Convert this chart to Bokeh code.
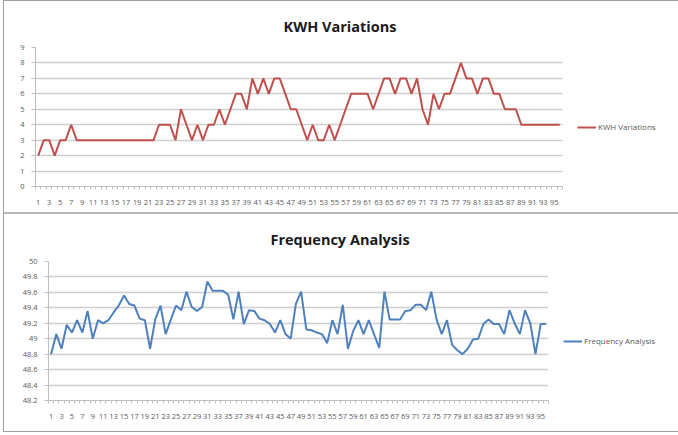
from bokeh.plotting import figure
from bokeh.models import Range1d, FixedTicker, Legend, LegendItem, NumeralTickFormatter
from bokeh.embed import file_html
from bokeh.resources import INLINE

# ---- data ----
categories = list(range(1, 97))
x_tick_labels = list(range(1, 96, 2))

kwh_values = [2, 3, 3, 2, 3, 3, 4, 3,
              3, 3, 3, 3, 3, 3, 3, 3, 3, 3, 3, 3, 3, 3,
              4, 4, 4, 3, 5, 4, 3, 4, 3, 4,
              4, 5, 4, 5, 6, 6, 5, 7, 6, 7,
              6, 7, 7, 6, 5, 5, 4, 3, 4, 3,
              3, 4, 3, 4, 5, 6, 6, 6, 6, 5,
              6, 7, 7, 6, 7, 7, 6, 7, 5, 4,
              6, 5, 6, 6, 7, 8, 7, 7, 6, 7,
              7, 6, 6, 5, 5, 5, 4,
              4, 4, 4, 4, 4, 4, 4]

freq_values = [48.80, 49.06, 48.87, 49.18, 49.08, 49.24, 49.08, 49.36, 49.00, 49.24,
               49.20, 49.24, 49.34, 49.43, 49.56, 49.45, 49.43, 49.26, 49.24, 48.87,
               49.25, 49.43, 49.06, 49.25, 49.43, 49.37, 49.61, 49.41, 49.36, 49.41,
               49.74, 49.62, 49.62, 49.62, 49.57, 49.25, 49.61, 49.19, 49.37, 49.36,
               49.26, 49.24, 49.19, 49.08, 49.24, 49.06, 49.00, 49.45, 49.61, 49.12,
               49.11, 49.08, 49.06, 48.94, 49.24, 49.06, 49.44, 48.87, 49.10, 49.24,
               49.06, 49.24, 49.06, 48.88, 49.61, 49.25, 49.25, 49.25, 49.36, 49.37,
               49.44, 49.44, 49.37, 49.61, 49.25, 49.06, 49.24, 48.92, 48.85, 48.80,
               48.87, 48.99, 49.00, 49.19, 49.25, 49.19, 49.19, 49.06, 49.37, 49.20,
               49.06, 49.37, 49.20, 48.80, 49.19, 49.19]

kwh_ticks = [0, 1, 2, 3, 4, 5, 6, 7, 8, 9]
freq_ticks = [48.2, 48.4, 48.6, 48.8, 49.0, 49.2, 49.4, 49.6, 49.8, 50.0]

kwh_title = "KWH Variations"
freq_title = "Frequency Analysis"
kwh_color = "#C0504D"
freq_color = "#4F81BD"

FONT = "Open Sans"
LABEL_COLOR = "#595959"
GRID_COLOR = "#cfcfcf"
AXIS_COLOR = "#bfbfbf"
FRAME = "1px solid #a0a0a0"
SEPARATOR = "2px solid #b8b8b8"

boundaries = [c - 0.5 for c in categories] + [categories[-1] + 0.5]


def make_chart(values, ticks, title, color, fw, fh, left, right, top, bottom,
               title_offset, standoff, legend_loc, styles, fmt=None):
    p = figure(frame_width=fw, frame_height=fh, output_backend="svg", toolbar_location=None,
               x_range=Range1d(categories[0] - 0.5, categories[-1] + 0.5),
               y_range=Range1d(ticks[0], ticks[-1]),
               min_border_left=left, min_border_right=right,
               min_border_top=top, min_border_bottom=bottom)
    p.styles = styles
    p.outline_line_color = None
    p.background_fill_color = "white"
    p.border_fill_color = "white"

    p.title.text = title
    p.title.text_font = FONT
    p.title.text_font_size = "14.5px"
    p.title.text_font_style = "bold"
    p.title.text_color = "#1a1a1a"
    p.title.align = "left"
    p.title.offset = title_offset
    p.title.standoff = standoff

    r = p.line(categories, values, line_color=color, line_width=2)

    # x axis
    xa = p.xaxis[0]
    xa.ticker = FixedTicker(ticks=x_tick_labels, minor_ticks=boundaries)
    xa.major_tick_line_color = None
    xa.major_tick_out = 0
    xa.major_tick_in = 0
    xa.minor_tick_line_color = AXIS_COLOR
    xa.minor_tick_out = 3
    xa.minor_tick_in = 0
    xa.axis_line_color = AXIS_COLOR
    xa.major_label_text_font = FONT
    xa.major_label_text_font_size = "7.5px"
    xa.major_label_text_color = LABEL_COLOR
    xa.major_label_standoff = 10

    # y axis
    ya = p.yaxis[0]
    ya.ticker = FixedTicker(ticks=ticks)
    if fmt is not None:
        ya.formatter = fmt
    ya.major_tick_line_color = AXIS_COLOR
    ya.major_tick_out = 4
    ya.major_tick_in = 0
    ya.minor_tick_line_color = None
    ya.axis_line_color = AXIS_COLOR
    ya.major_label_text_font = FONT
    ya.major_label_text_font_size = "7.5px"
    ya.major_label_text_color = LABEL_COLOR
    ya.major_label_standoff = 7

    p.xgrid.visible = False
    p.ygrid.ticker = FixedTicker(ticks=ticks)
    p.ygrid.grid_line_color = GRID_COLOR
    p.ygrid.grid_line_width = 1.5

    legend = Legend(items=[LegendItem(label=title, renderers=[r])],
                    location=legend_loc, orientation="vertical")
    legend.label_text_font = FONT
    legend.label_text_font_size = "8px"
    legend.label_text_color = LABEL_COLOR
    legend.glyph_width = 19
    legend.glyph_height = 10
    legend.label_standoff = 2
    legend.label_height = 10
    legend.padding = 0
    legend.margin = 0
    legend.spacing = 0
    legend.border_line_color = None
    legend.background_fill_alpha = 0
    p.add_layout(legend, "right")
    return p


top = make_chart(kwh_values, kwh_ticks, kwh_title, kwh_color, 527, 139,
                 31, 110, 46, 26, 248, 24, (15, 54),
                 {"border-left": FRAME, "border-top": FRAME, "border-right": FRAME,
                  "margin-left": "3px"})
bottom = make_chart(freq_values, freq_ticks, freq_title, freq_color, 500, 139,
                    44, 120, 47, 31, 222, 25, (15, 54),
                    {"border-left": FRAME, "border-top": SEPARATOR, "border-right": FRAME,
                     "border-bottom": FRAME, "margin-left": "3px"},
                    fmt=NumeralTickFormatter(format="0.[0]"))

open("out.html", "w").write(file_html([top, bottom], INLINE))
